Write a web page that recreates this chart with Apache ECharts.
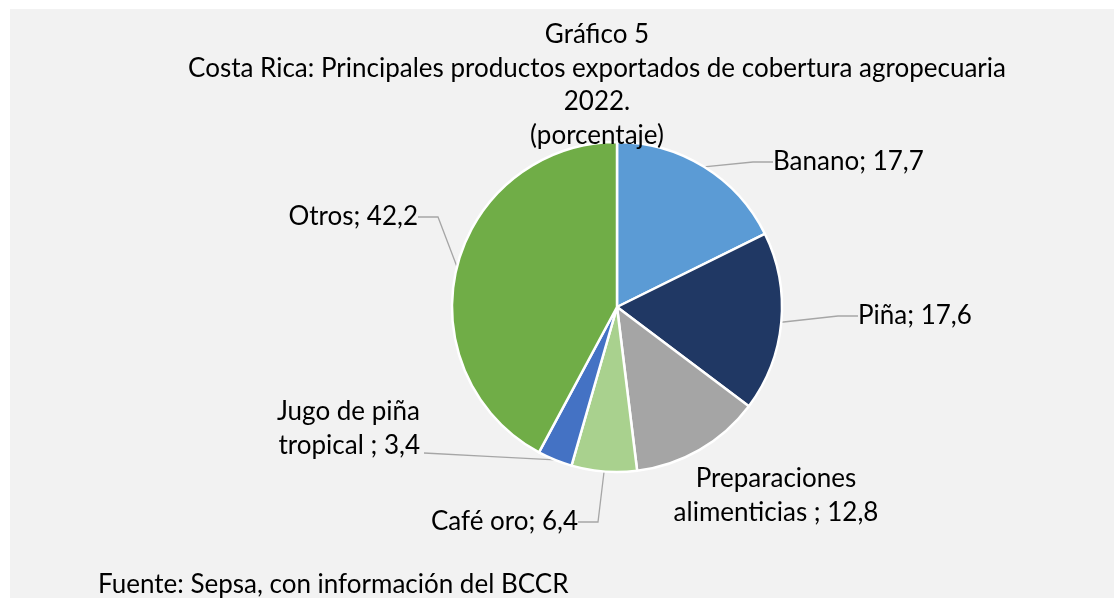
<!DOCTYPE html>
<html><head><meta charset="utf-8">
<script src="https://cdn.jsdelivr.net/npm/echarts@6/dist/echarts.min.js"></script>
<style>html,body{margin:0;padding:0;background:#fff}#c{width:1114px;height:598px}</style>
</head><body><div id="c"></div>
<script>
const categories = ['Banano', 'Piña', 'Preparaciones\nalimenticias ', 'Café oro', 'Jugo de piña\ntropical ', 'Otros'];
const values = [17.7, 17.6, 12.8, 6.4, 3.4, 42.2];
const colors = ['#5b9bd5', '#203864', '#a5a5a5', '#a9d18e', '#4472c4', '#70ad47'];
const titleLines = ['Gráfico 5', 'Costa Rica: Principales productos exportados de cobertura agropecuaria', '2022.', '(porcentaje)'];
const sourceText = 'Fuente: Sepsa, con información del BCCR';

const FONT = 'Lato';
const FS = 26;
const labelPos = [
  {x: 773, y: 162, align: 'left'},
  {x: 858, y: 316, align: 'left'},
  {x: 776, y: 496, align: 'center'},
  {x: 578, y: 522, align: 'right'},
  {x: 420, y: 429, align: 'right', lineToBottom: true},
  {x: 418, y: 217, align: 'right'}
];

const chart = echarts.init(document.getElementById('c'), null, {renderer: 'canvas'});
chart.setOption({
  backgroundColor: '#ffffff',
  graphic: [{type: 'rect', shape: {x: 10, y: 9, width: 1104, height: 589}, style: {fill: '#f2f2f2'}, z: -10}],
  title: [{
    text: titleLines.join('\n'),
    left: 592, top: 13, textAlign: 'center',
    textStyle: {fontFamily: FONT, fontSize: FS, fontWeight: 'normal', color: '#000', lineHeight: 33.5, align: 'center'}
  }, {
    text: sourceText, left: 93, top: 563,
    textStyle: {fontFamily: FONT, fontSize: FS, fontWeight: 'normal', color: '#000', lineHeight: 34}
  }],
  series: [{
    type: 'pie',
    center: [617, 307],
    radius: 165,
    startAngle: 90,
    clockwise: true,
    silent: true,
    animation: false,
    itemStyle: {borderColor: '#ffffff', borderWidth: 2.5},
    data: categories.map((c, i) => ({
      name: c, value: values[i], itemStyle: {color: colors[i]},
      labelLine: i === 2 ? {show: false} : undefined
    })),
    label: {
      show: true, position: 'outside',
      fontFamily: FONT, fontSize: FS, color: '#000', lineHeight: 34,
      formatter: p => p.name + '; ' + String(p.value).replace('.', ',')
    },
    labelLine: {show: true, length: 20, length2: 20, lineStyle: {color: '#a6a6a6', width: 1.3}},
    labelLayout: p => {
      const lp = labelPos[p.dataIndex];
      const res = {x: lp.x, y: lp.y, align: lp.align, verticalAlign: 'middle'};
      if (lp.lineToBottom && p.labelLinePoints) {
        const start = p.labelLinePoints[0];
        res.labelLinePoints = [start, [(start[0] + lp.x) / 2, (start[1] + lp.y + 24) / 2], [lp.x + 4, lp.y + 24]];
      }
      return res;
    }
  }]
});
</script></body></html>
